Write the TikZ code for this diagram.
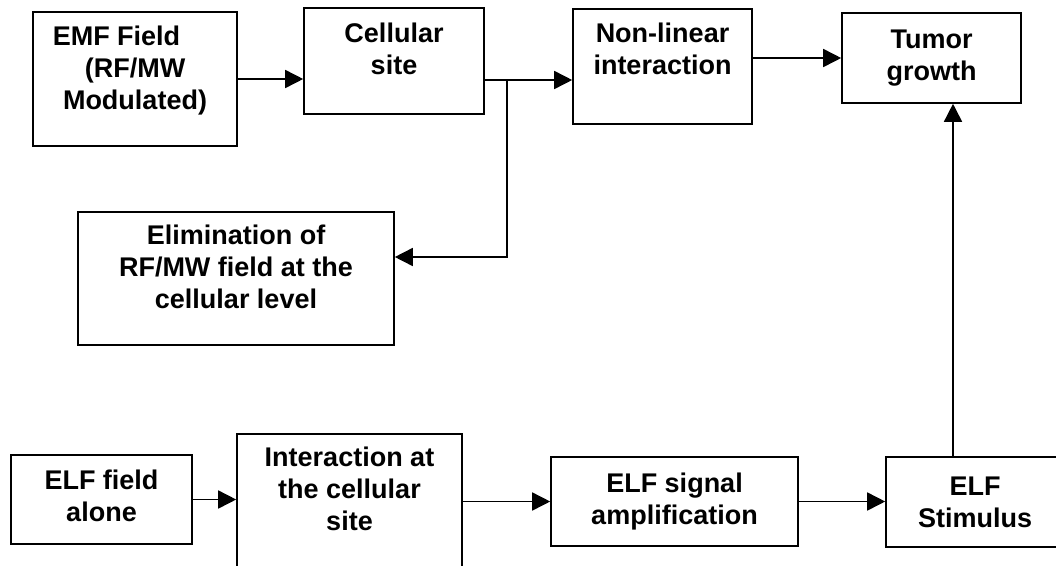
\documentclass[tikz,border=0pt]{standalone}
\usepackage{fontspec}
\setmainfont{Liberation Sans}
\usetikzlibrary{arrows.meta}
\tikzset{
  box/.style={draw, line width=1.6pt, inner sep=0pt, align=center,
    font=\fontsize{27}{32}\selectfont\bfseries},
  arr/.style={line width=1.6pt, -{Triangle[length=18pt,width=18pt]}}
}
\begin{document}
\begin{tikzpicture}[x=1pt,y=-1pt]
\useasboundingbox (0,0) rectangle (1056,565);
% EMF path
\node[box, minimum width=204pt, minimum height=134pt] (emf) at (135,79) {EMF Field\hspace*{37pt}\\(RF/MW\\Modulated)\rule[-21.7pt]{0pt}{21.7pt}};
\node[box, minimum width=180pt, minimum height=106pt] (cell) at (394,61) {Cellular\\site\rule[-25pt]{0pt}{25pt}};
\node[box, minimum width=179pt, minimum height=115pt] (nonlin) at (662.5,66.5) {Non-linear\\interaction\rule[-36pt]{0pt}{36pt}};
\node[box, minimum width=179pt, minimum height=90pt] (tumor) at (931.5,58) {Tumor\\growth};
\node[box, minimum width=316pt, minimum height=133pt] (elim) at (236,278.5) {Elimination of\\RF/MW field at the\\cellular level\rule[-24pt]{0pt}{24pt}};
% ELF path
\node[box, minimum width=181pt, minimum height=89pt] (alone) at (101.5,499.5) {ELF field\\alone\rule[-7pt]{0pt}{7pt}};
\node[box, minimum width=225pt, minimum height=146pt] (inter) at (349.5,507) {Interaction at\\the cellular\\site\rule[-36pt]{0pt}{36pt}};
\node[box, minimum width=247pt, minimum height=89pt] (signal) at (674.5,501.5) {ELF signal\\amplification};
\node[box, minimum width=178pt, minimum height=90pt] (stim) at (975,502) {ELF\\Stimulus};
\coordinate (br) at (507,80);
\draw[arr] (emf.east) -- (emf.east -| cell.west);
\draw[arr] (cell.east |- br) -- (br -| nonlin.west);
\draw[arr] (br) |- ([yshift=21.5pt]elim.east);
\draw[arr] (nonlin.east |- tumor.west) -- (tumor.west);
\draw[arr] (alone.east) -- (alone.east -| inter.west);
\draw[arr] (signal.west -| inter.east) -- (signal.west);
\draw[arr] (signal.east) -- (signal.east -| stim.west);
\draw[arr] ([xshift=-22pt]stim.north) -- ([xshift=-22pt]stim.north |- tumor.south);
\end{tikzpicture}
\end{document}
